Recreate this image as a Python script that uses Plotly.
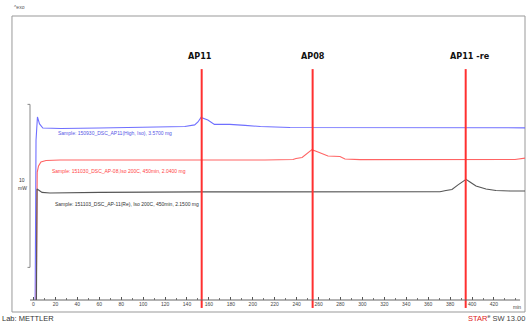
import plotly.graph_objects as go

# ---- data (time in min, heat flow in mW, offset per curve) ----
blue_t = [1.5, 2.3, 3.6, 5.5, 8.5, 25, 60, 105, 138, 147, 150, 152.8, 156, 159, 165, 179, 193, 207, 234, 290, 380, 449]
blue_v = [0.0, 9.8, 11.23, 10.80, 10.55, 10.52, 10.55, 10.58, 10.64, 10.74, 10.92, 11.20, 11.10, 11.04, 10.77, 10.77, 10.71, 10.64, 10.58, 10.58, 10.58, 10.56]

red_t = [2.5, 3.4, 4.6, 6.8, 11.4, 24.2, 151.9, 188.3, 211.1, 236.7, 239.5, 245.0, 254.0, 259.5, 268.6, 279.5, 284.1, 297.8, 379.9, 439.2, 449]
red_v = [0.0, 7.85, 8.22, 8.47, 8.56, 8.59, 8.59, 8.57, 8.59, 8.62, 8.68, 8.74, 9.22, 9.08, 8.83, 8.80, 8.65, 8.61, 8.61, 8.62, 8.71]

black_t = [2.7, 3.2, 4.6, 7.8, 15.0, 60.6, 151.9, 243, 370.7, 376.2, 381.7, 387.2, 394.5, 398.1, 403.6, 412.7, 421.8, 434.6, 449]
black_v = [0.0, 6.81, 6.75, 6.60, 6.56, 6.60, 6.63, 6.64, 6.64, 6.72, 6.78, 7.06, 7.40, 7.24, 6.99, 6.81, 6.72, 6.69, 6.69]

sample_labels = [
    "Sample: 150930_DSC_AP11(High, Iso), 3.5700 mg",
    "Sample: 151030_DSC_AP-08,Iso 200C, 450min, 2.0400 mg",
    "Sample: 151103_DSC_AP-11(Re), Iso 200C, 450min, 2.1500 mg",
]
label_t = [20.5, 15.0, 17.8]
label_v = [10.25, 7.91, 5.89]

marker_names = ["AP11", "AP08", "AP11 -re"]
marker_t = [153.4, 254.6, 394.2]
marker_label_t = [151.5, 255.0, 398.0]

tick_vals = list(range(0, 421, 20))

colors = ["#6f6fff", "#ff6464", "#555555"]
text_colors = ["#5555e6", "#ff4444", "#333333"]

fig = go.Figure()
for t, v, c in zip([blue_t, red_t, black_t], [blue_v, red_v, black_v], colors):
    fig.add_trace(go.Scatter(x=t, y=v, mode="lines", line=dict(color=c, width=1.1),
                             hoverinfo="skip", showlegend=False))

ann = []
for txt, t, v, c in zip(sample_labels, label_t, label_v, text_colors):
    ann.append(dict(x=t, y=v, xref="x", yref="y", text=txt, showarrow=False,
                    xanchor="left", yanchor="middle",
                    font=dict(size=5, color=c, family="Liberation Sans, Arial")))

shapes = []
for t in marker_t:
    shapes.append(dict(type="line", xref="x", yref="paper", x0=t, x1=t, y0=-0.028, y1=0.813,
                       line=dict(color="#ff3030", width=2)))
for name, t in zip(marker_names, marker_label_t):
    ann.append(dict(x=t, y=0.860, xref="x", yref="paper", text="<b>" + name + "</b>", showarrow=False,
                    xanchor="center", yanchor="middle",
                    font=dict(size=9, color="#111111", family="DejaVu Sans Condensed, Arial Narrow")))

# frame
shapes.append(dict(type="rect", xref="paper", yref="paper", x0=-0.0364, x1=1.0, y0=-0.0423, y1=1.0,
                   line=dict(color="#999999", width=1), layer="below"))
# x axis line
shapes.append(dict(type="line", xref="paper", yref="paper", x0=0, x1=0.99, y0=0, y1=0,
                   line=dict(color="#666666", width=1)))
# 10 mW scale bracket
shapes.append(dict(type="path", xref="paper", yref="y",
                   path="M -0.005,2 L 0,2 L 0,12 L -0.005,12",
                   line=dict(color="#888888", width=1)))

ann += [
    dict(x=-0.016, y=7.36, xref="paper", yref="y", text="10", showarrow=False, xanchor="center",
         font=dict(size=5, color="#333333", family="Liberation Sans, Arial")),
    dict(x=-0.016, y=6.87, xref="paper", yref="y", text="mW", showarrow=False, xanchor="center",
         font=dict(size=5, color="#333333", family="Liberation Sans, Arial")),
    dict(x=-0.0364, y=1.032, xref="paper", yref="paper", text="^exo", showarrow=False, xanchor="left",
         yanchor="middle", font=dict(size=5, color="#555555", family="Liberation Sans, Arial")),
    dict(x=441, y=-0.025, xref="x", yref="paper", text="min", showarrow=False, xanchor="center",
         yanchor="middle", font=dict(size=5, color="#444444", family="Liberation Sans, Arial")),
    dict(x=-0.0606, y=-0.0634, xref="paper", yref="paper", text="Lab: METTLER", showarrow=False,
         xanchor="left", yanchor="middle", font=dict(size=7.5, color="#333333", family="Liberation Sans, Arial")),
    dict(x=1.004, y=-0.0634, xref="paper", yref="paper",
         text="<span style='color:#e02020'>STAR</span><sup>e</sup> SW 13.00", showarrow=False,
         xanchor="right", yanchor="middle", font=dict(size=7.5, color="#444444", family="Liberation Sans, Arial")),
]

fig.update_layout(
    width=530, height=326,
    margin=dict(l=30, r=5, t=16, b=26),
    paper_bgcolor="white", plot_bgcolor="white",
    xaxis=dict(range=[-3.19, 448.3], tickvals=tick_vals, ticks="inside", ticklen=3, tickcolor="#555555",
               showgrid=False, zeroline=False, showline=False,
               tickfont=dict(size=5, color="#444444", family="Liberation Sans, Arial"),
               minor=dict(dtick=10, tick0=0, ticks="inside", ticklen=2, tickcolor="#777777")),
    yaxis=dict(range=[0, 17.42], visible=False, showgrid=False, zeroline=False),
    shapes=shapes, annotations=ann,
)

fig.write_html("out.html", config={"displayModeBar": False})
